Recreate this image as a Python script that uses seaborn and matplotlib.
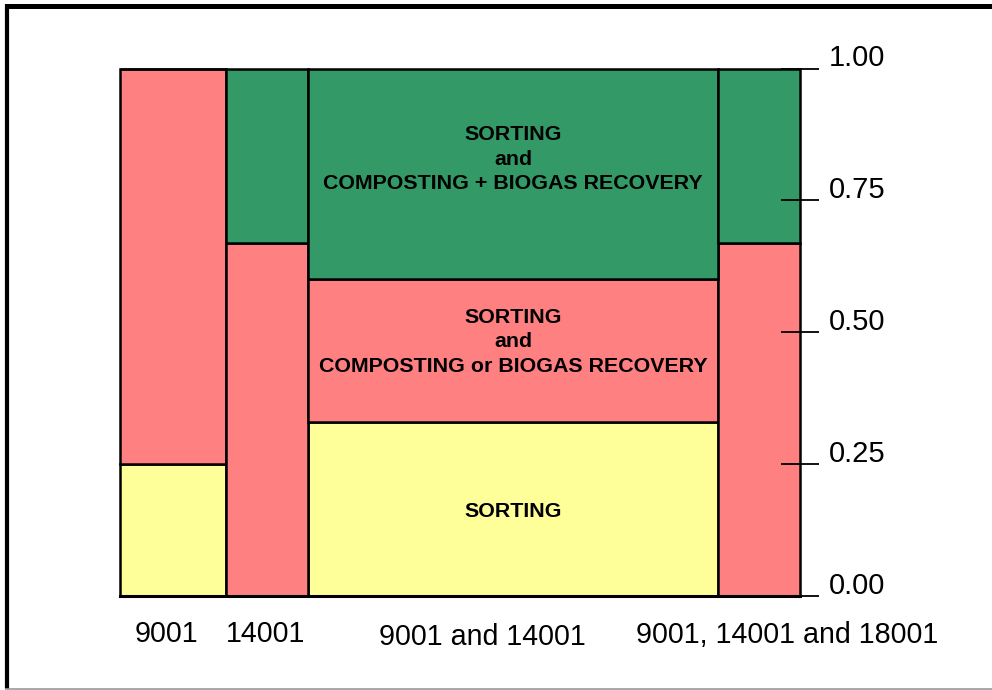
import matplotlib
matplotlib.use("Agg")
import matplotlib.pyplot as plt
import matplotlib.transforms as mtransforms
from matplotlib.lines import Line2D
import numpy as np
import pandas as pd
import seaborn as sns

# ---- data ----
columns = ["9001", "14001", "9001 and 14001", "9001, 14001 and 18001"]
col_widths = [0.1566, 0.1209, 0.6017, 0.1208]
categories = ["SORTING",
              "SORTING\nand\nCOMPOSTING or BIOGAS RECOVERY",
              "SORTING\nand\nCOMPOSTING + BIOGAS RECOVERY"]
share_sorting = [0.25, 0.00, 0.33, 0.00]
share_sorting_or = [0.75, 0.67, 0.27, 0.67]
share_sorting_plus = [0.00, 0.33, 0.40, 0.33]
ytick_values = [0.0, 0.25, 0.50, 0.75, 1.00]
ytick_labels = ["0.00", "0.25", "0.50", "0.75", "1.00"]

colors = {categories[0]: "#FFFF99", categories[1]: "#FF8080", categories[2]: "#339966"}

edges = np.concatenate([[0.0], np.cumsum(col_widths)])
edges[-1] = 1.0
centers = (edges[:-1] + edges[1:]) / 2

shares = [share_sorting, share_sorting_or, share_sorting_plus]
rows = []
for cat, vals in zip(categories, shares):
    for c, v in zip(centers, vals):
        rows.append({"x": c, "w": v, "cat": cat})
df = pd.DataFrame(rows)

sns.set_style("white")
plt.rcParams["font.family"] = ["Liberation Sans", "DejaVu Sans"]

fig = plt.figure(figsize=(9.92, 6.9), dpi=100)
ax = fig.add_axes([119.5 / 992, 94 / 690, 680.5 / 992, 527.5 / 690])

# seaborn stacks the last hue level at the bottom, so reverse the order
sns.histplot(data=df, x="x", weights="w", hue="cat", hue_order=categories[::-1],
             bins=list(edges), multiple="stack", palette=colors, alpha=1,
             edgecolor="black", linewidth=1.8, legend=False, ax=ax)

for p in ax.patches:
    p.set_clip_on(False)

ax.set_axisbelow(False)
ax.set_xlim(0, 1)
ax.set_ylim(0, 1)
ax.set_xlabel("")
ax.set_ylabel("")
for s in ["left", "right", "top"]:
    ax.spines[s].set_visible(False)
ax.spines["bottom"].set_linewidth(2.2)
ax.spines["bottom"].set_color("black")

# y axis on the right
ax.yaxis.tick_right()
ax.set_yticks(ytick_values, ytick_labels)
ax.tick_params(axis="y", direction="inout", length=28, width=1.3, pad=7,
               labelsize=21, colors="black", right=True, left=False)
up = mtransforms.ScaledTranslation(0, 13 / 100, fig.dpi_scale_trans)
for lab in ax.get_yticklabels():
    lab.set_transform(lab.get_transform() + up)

# x labels
ax.set_xticks(centers, columns)
ax.tick_params(axis="x", length=0, pad=17, labelsize=20.6, colors="black")
x_off_px = [-6, -1.5, -31, 28]
y_off_px = [0, 0, -3, -1]
for lab, dx, dy in zip(ax.get_xticklabels(), x_off_px, y_off_px):
    lab.set_transform(lab.get_transform() +
                      mtransforms.ScaledTranslation(dx / 100, dy / 100, fig.dpi_scale_trans))

# cell labels in the large column
i = 2
bottoms = np.cumsum([0] + [s[i] for s in shares])
text_dy = [-0.004, 0.017, 0.028]
for k, cat in enumerate(categories):
    mid = (bottoms[k] + bottoms[k + 1]) / 2 + text_dy[k]
    ax.text(centers[i], mid, cat, ha="center", va="center", fontsize=15.4,
            fontweight="bold", linespacing=1.38, color="black")

# outer frame
fig.add_artist(Line2D([5 / 992, 1], [1 - 6 / 690, 1 - 6 / 690], transform=fig.transFigure,
                      color="black", lw=3.6, solid_capstyle="butt"))
fig.add_artist(Line2D([7 / 992, 7 / 992], [1 - 4 / 690, 1 - 689 / 690], transform=fig.transFigure,
                      color="black", lw=3.0, solid_capstyle="butt"))
fig.add_artist(Line2D([5 / 992, 1], [1 - 688.5 / 690, 1 - 688.5 / 690], transform=fig.transFigure,
                      color="#999999", lw=1.2, solid_capstyle="butt"))

fig.savefig("out.png", dpi=100, facecolor="white")
